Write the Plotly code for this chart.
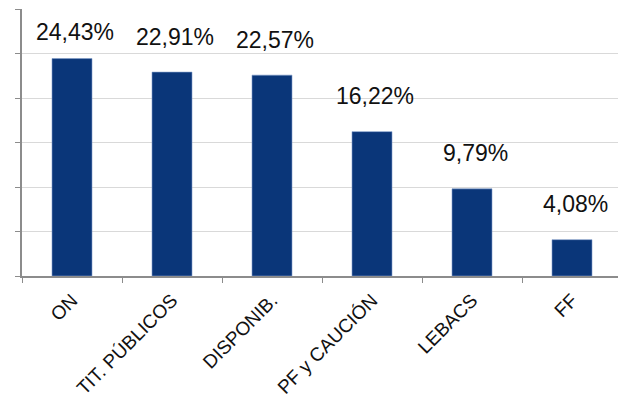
import plotly.graph_objects as go

categorias = ["ON", "TIT. PÚBLICOS", "DISPONIB.", "PF y CAUCIÓN", "LEBACS", "FF"]
valores = [24.43, 22.91, 22.57, 16.22, 9.79, 4.08]
etiquetas = ["24,43%", "22,91%", "22,57%", "16,22%", "9,79%", "4,08%"]

AZUL = "#0A3679"
GRIS = "#8C8C8C"

fig = go.Figure(go.Bar(
    x=categorias, y=valores,
    marker=dict(color=AZUL, line=dict(color="#7F9CC9", width=0.6)),
    hoverinfo="skip", showlegend=False,
))

# data labels sit ~4 pts above the bar, capped at the top band
for cat, val, txt in zip(categorias, valores, etiquetas):
    fig.add_annotation(
        x=cat, y=min(val + 4, 27.4), text=txt, showarrow=False,
        yanchor="middle", xshift=3, font=dict(size=23, color="#111111"),
    )

# page body has an 8px margin, so the figure is a bit smaller than the window
fig.update_layout(
    width=618, height=399,
    margin=dict(l=14, r=4, t=1, b=131, autoexpand=False),
    paper_bgcolor="white", plot_bgcolor="white",
    font=dict(family="Liberation Sans, Arial, sans-serif", color="#111111"),
    bargap=0.6,
    xaxis=dict(
        showline=True, linecolor=GRIS, linewidth=1.5,
        ticks="outside", tickson="boundaries", ticklen=5, tickcolor=GRIS,
        tickangle=-45, tickfont=dict(size=19, color="#111111"),
        ticklabelstandoff=4,
        showgrid=False, automargin=False,
    ),
    yaxis=dict(
        range=[0, 30], dtick=5, showticklabels=False,
        showline=True, linecolor=GRIS, linewidth=1.5,
        ticks="outside", ticklen=5, tickcolor=GRIS,
        showgrid=True, gridcolor="#D9D9D9", gridwidth=1,
        zeroline=False, automargin=False,
    ),
)

fig.write_html("out.html")
